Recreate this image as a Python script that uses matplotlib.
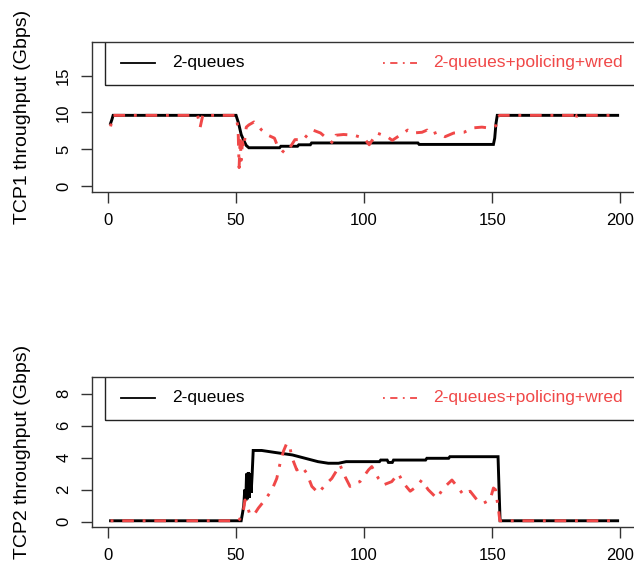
import numpy as np
import matplotlib
matplotlib.use("Agg")
import matplotlib.pyplot as plt
from matplotlib.patches import Rectangle

plt.rcParams['font.family'] = ['Liberation Sans', 'DejaVu Sans']

# TCP1, 2-queues
t1_black = [1, 1.5, 2, 50, 51, 52, 53, 54, 55, 67, 67.5, 74, 74.5, 79, 79.5, 121, 121.5,
            150.5, 151, 151.5, 152, 199]
v1_black = [8.5, 9.0, 9.6, 9.6, 8.5, 7.0, 6.2, 5.5, 5.2, 5.2, 5.4, 5.4, 5.6, 5.6, 5.85, 5.85, 5.65,
            5.65, 6.5, 8.5, 9.6, 9.6]

# TCP1, 2-queues+policing+wred
t1_red = [1, 2, 35, 36, 37, 50, 50.8, 51.2, 51.6, 52, 52.5, 53, 54, 55, 57, 58, 60, 62.5, 65, 66,
          68, 69, 71, 73, 75, 76, 78, 80, 83, 86, 88, 89, 92, 96, 100, 102, 105, 109, 111, 114,
          117, 119, 122.6, 124.6, 126, 128.5, 131.6, 135, 139, 142.6, 146, 148.4, 150.4, 151.5,
          152, 153, 182, 182.5, 183, 199]
v1_red = [8.1, 9.6, 9.6, 8.0, 9.6, 9.6, 7.8, 2.5, 6.5, 3.5, 6.0, 5.2, 8.0, 8.3, 8.7, 8.4, 7.6, 6.9,
          6.5, 5.6, 4.8, 4.5, 5.2, 6.3, 6.3, 6.2, 7.0, 7.6, 7.2, 6.3, 5.8, 6.9, 7.0, 6.9, 6.5, 5.6,
          7.2, 6.7, 6.2, 6.9, 7.6, 7.2, 7.3, 7.6, 7.0, 7.3, 6.7, 7.2, 7.3, 7.9, 8.0, 7.9, 8.0, 8.2,
          9.4, 9.6, 9.6, 8.9, 9.6, 9.6]

# TCP2, 2-queues
t2_black = [1, 52, 52.5, 53, 53.4, 53.8, 54.1, 54.5, 54.8, 55.2, 55.5, 55.9, 56.3, 56.7, 60, 65,
            72, 77, 82, 86, 90, 93, 106, 106.5, 109, 109.5, 111, 111.5, 124, 124.5, 133, 133.5,
            152.3, 152.7, 153.1, 199]
v2_black = [0.05, 0.05, 0.5, 1.0, 2.0, 1.3, 3.0, 1.4, 3.1, 1.5, 3.0, 1.8, 3.0, 4.45, 4.45, 4.33,
            4.17, 3.96, 3.75, 3.65, 3.65, 3.75, 3.75, 3.85, 3.85, 3.7, 3.7, 3.85, 3.85, 3.96, 3.96,
            4.06, 4.06, 2.0, 0.05, 0.05]

# TCP2, 2-queues+policing+wred
t2_red = [1, 51, 52, 52.9, 53.5, 54.5, 55.5, 57.4, 58.7, 61.3, 64, 65.9, 67.2, 68.5, 69.8, 71,
          71.7, 73.7, 75.7, 77.6, 79.6, 82.2, 84.8, 87.4, 90.6, 92.6, 94.5, 96.5, 98.4, 101.7,
          103, 105.6, 107.6, 110.8, 113.4, 115.4, 118, 120.6, 122.5, 125, 128.4, 131, 134.3,
          136.8, 138.8, 141.4, 144.6, 146.6, 149.2, 150.5, 151.3, 152.5, 153, 199]
v2_red = [0.05, 0.05, 0.3, 0.73, 1.35, 0.9, 0.4, 0.52, 0.84, 1.36, 1.98, 2.7, 3.65, 4.4, 4.9, 4.7,
          4.06, 3.23, 3.44, 3.03, 2.2, 1.78, 2.3, 2.7, 3.54, 2.8, 2.2, 2.4, 2.5, 3.23, 3.44, 2.7,
          2.3, 2.5, 3.0, 2.4, 1.9, 2.2, 2.6, 2.0, 1.46, 2.1, 2.6, 2.1, 1.67, 1.9, 1.25, 1.15, 1.36,
          2.1, 2.0, 0.73, 0.05, 0.05]

labels = ["2-queues", "2-queues+policing+wred"]
red = "#f04848"
dash = (0, (1, 3, 4, 3))

fig = plt.figure(figsize=(6.34, 5.67), dpi=100)
ax1 = fig.add_axes([0.1451, 0.6619, 0.861, 0.2635])
ax2 = fig.add_axes([0.1451, 0.0711, 0.861, 0.2635])


def panel(ax, tb, vb, tr, vr, ylim, yticks, ylabel):
    ax.plot(tb, vb, color="black", lw=2.1, solid_joinstyle="miter")
    ax.plot(tr, vr, color=red, lw=2.1, linestyle=dash)
    ax.set_xlim(-6.25, 206.9)
    ax.set_ylim(*ylim)
    ax.set_xticks([0, 50, 100, 150, 200])
    ax.set_yticks(yticks)
    ax.tick_params(direction="out", length=8, width=1, labelsize=12, pad=7, color="#333333")
    ax.tick_params(axis="y", labelrotation=90)
    for lb in ax.get_yticklabels():
        lb.set_va("center")
    for s in ax.spines.values():
        s.set_color("#333333")
        s.set_linewidth(1.0)
    ax.set_ylabel(ylabel, fontsize=14)
    ax.yaxis.set_label_coords(-0.112, 0.5)

    # legend box drawn R-style
    ax.add_patch(Rectangle((0.0238, 0.713), 1.2, 0.4, transform=ax.transAxes,
                           fill=False, edgecolor="#222222", lw=1.0, clip_on=True))
    ax.plot([0.0531, 0.1161], [0.864, 0.864], transform=ax.transAxes, color="black", lw=1.3)
    ax.text(0.146, 0.864, labels[0], transform=ax.transAxes, fontsize=12.5, va="center")
    ax.plot([0.5338, 0.595], [0.864, 0.864], transform=ax.transAxes, color=red, lw=1.3,
            linestyle=dash)
    ax.text(0.6254, 0.864, labels[1], transform=ax.transAxes, fontsize=12.5, va="center",
            color=red)


panel(ax1, t1_black, v1_black, t1_red, v1_red, (-0.77, 19.52), [0, 5, 10, 15],
      "TCP1 throughput (Gbps)")
panel(ax2, t2_black, v2_black, t2_red, v2_red, (-0.32, 9.03), [0, 2, 4, 6, 8],
      "TCP2 throughput (Gbps)")

fig.savefig("out.png", dpi=100)
